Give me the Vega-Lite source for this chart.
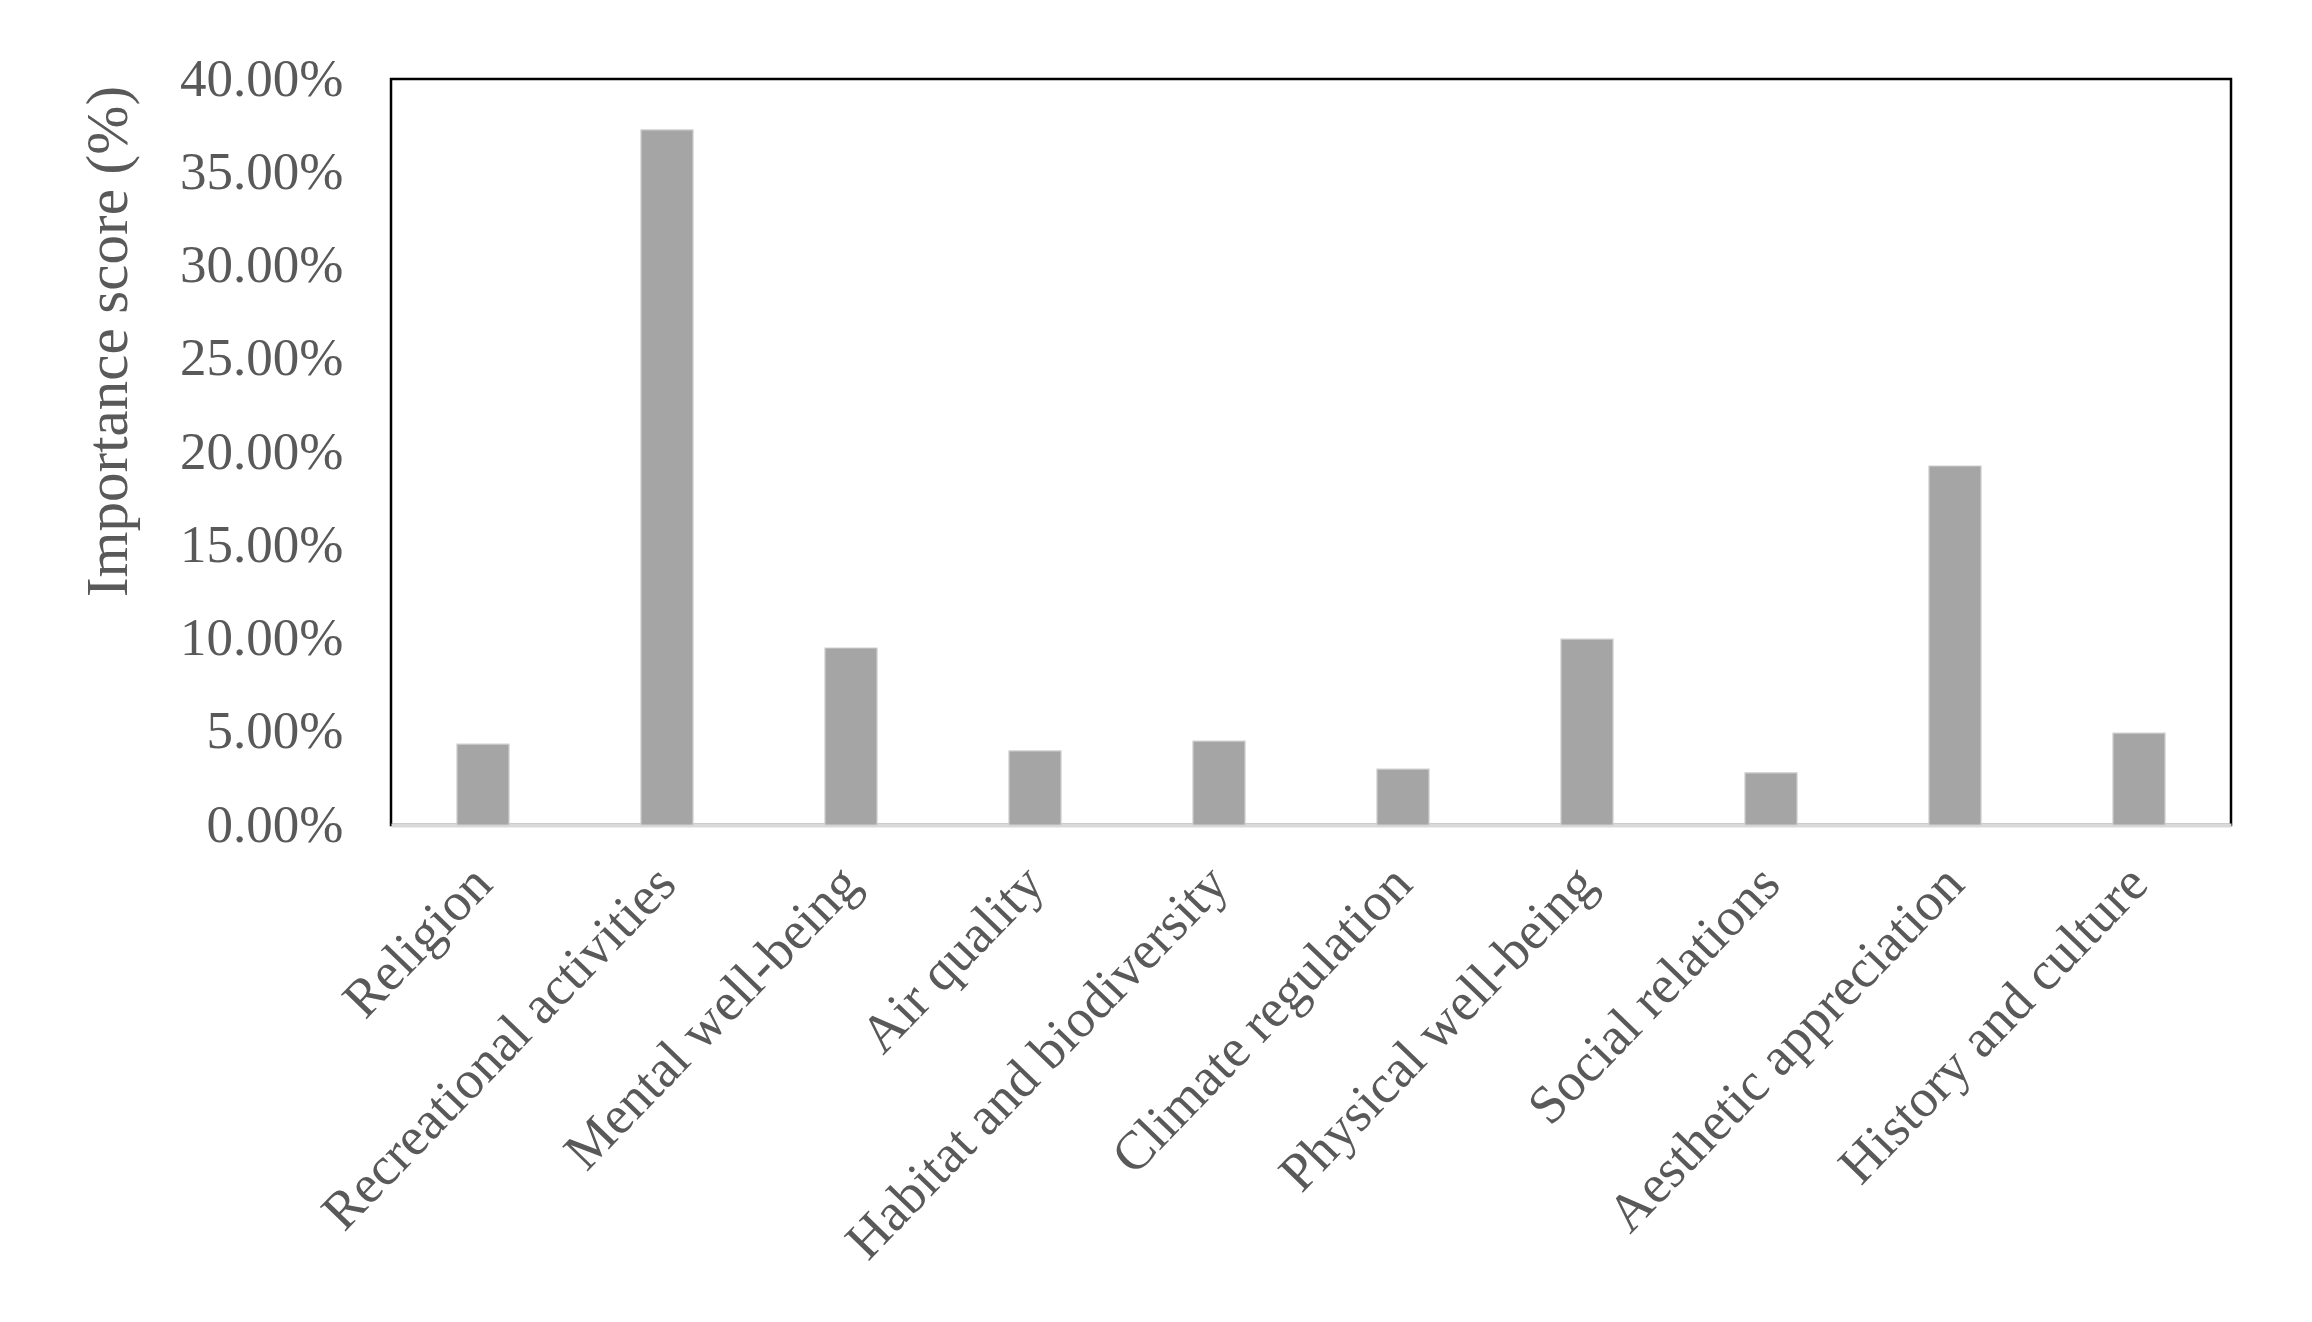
{
  "$schema": "https://vega.github.io/schema/vega-lite/v6.json",
  "autosize": {"type": "none"},
  "padding": {"left": 391, "top": 79, "right": 81, "bottom": 497},
  "width": 1840,
  "height": 746,
  "background": "white",
  "config": {
    "view": {"stroke": "#000000", "strokeWidth": 2.5},
    "font": "Liberation Serif"
  },
  "data": {
    "values": [
      {"category": "Religion", "score": 0.0434},
      {"category": "Recreational activities", "score": 0.3727},
      {"category": "Mental well-being", "score": 0.0949},
      {"category": "Air quality", "score": 0.0397},
      {"category": "Habitat and biodiversity", "score": 0.045},
      {"category": "Climate regulation", "score": 0.03},
      {"category": "Physical well-being", "score": 0.0997},
      {"category": "Social relations", "score": 0.028},
      {"category": "Aesthetic appreciation", "score": 0.1925},
      {"category": "History and culture", "score": 0.0493}
    ]
  },
  "mark": {"type": "bar", "color": "#a5a5a5", "stroke": "#cfcfcf", "strokeWidth": 1.2, "width": {"band": 0.283}},
  "encoding": {
    "x": {
      "field": "category",
      "type": "nominal",
      "sort": null,
      "scale": {"paddingInner": 0, "paddingOuter": 0},
      "axis": {
        "title": null,
        "labelAngle": -46,
        "labelAlign": "right",
        "labelBaseline": "middle",
        "labelFontSize": 54,
        "labelColor": "#595959",
        "labelFont": "Liberation Serif",
        "labelPadding": 50,
        "ticks": false,
        "domainColor": "#d9d9d9",
        "domainWidth": 4,
        "labelLimit": 0,
        "labelOverlap": false
      }
    },
    "y": {
      "field": "score",
      "type": "quantitative",
      "scale": {"domain": [0, 0.4], "nice": false},
      "axis": {
        "title": "Importance score (%)",
        "titleFont": "Liberation Serif",
        "titleFontSize": 59,
        "titleFontWeight": "normal",
        "titleColor": "#595959",
        "titleX": -283,
        "titleY": 262,
        "titleAngle": -90,
        "titleAlign": "center",
        "titleBaseline": "middle",
        "values": [0, 0.05, 0.1, 0.15, 0.2, 0.25, 0.3, 0.35, 0.4],
        "format": ".2%",
        "labelFontSize": 53,
        "labelColor": "#595959",
        "labelFont": "Liberation Serif",
        "labelPadding": 48,
        "ticks": false,
        "grid": false,
        "domain": false,
        "labelOverlap": false
      }
    }
  }
}
